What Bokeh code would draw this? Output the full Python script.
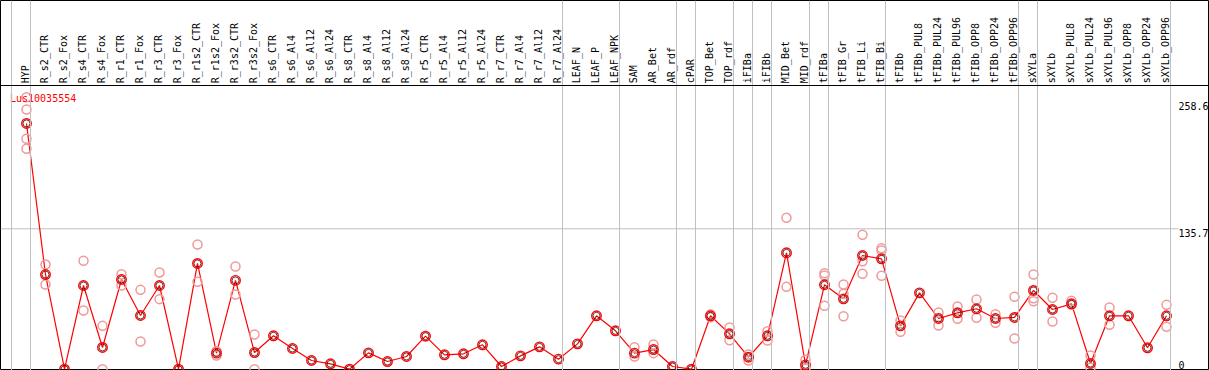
import math
from bokeh.plotting import figure
from bokeh.models import Range1d, Span
from bokeh.embed import file_html
from bokeh.resources import INLINE
from bokeh.core.properties import value

# ---------------- data ----------------
categories = [
    "HYP", "R_s2_CTR", "R_s2_Fox", "R_s4_CTR", "R_s4_Fox", "R_r1_CTR", "R_r1_Fox",
    "R_r3_CTR", "R_r3_Fox", "R_r1s2_CTR", "R_r1s2_Fox", "R_r3s2_CTR", "R_r3s2_Fox",
    "R_s6_CTR", "R_s6_Al4", "R_s6_Al12", "R_s6_Al24", "R_s8_CTR", "R_s8_Al4",
    "R_s8_Al12", "R_s8_Al24", "R_r5_CTR", "R_r5_Al4", "R_r5_Al12", "R_r5_Al24",
    "R_r7_CTR", "R_r7_Al4", "R_r7_Al12", "R_r7_Al24", "LEAF_N", "LEAF_P", "LEAF_NPK",
    "SAM", "AR_Bet", "AR_rdf", "cPAR", "TOP_Bet", "TOP_rdf", "iFIBa", "iFIBb",
    "MID_Bet", "MID_rdf", "tFIBa", "tFIB_Gr", "tFIB_Li", "tFIB_Bi", "tFIBb",
    "tFIBb_PUL8", "tFIBb_PUL24", "tFIBb_PUL96", "tFIBb_OPP8", "tFIBb_OPP24",
    "tFIBb_OPP96", "sXYLa", "sXYLb", "sXYLb_PUL8", "sXYLb_PUL24", "sXYLb_PUL96",
    "sXYLb_OPP8", "sXYLb_OPP24", "sXYLb_OPP96",
]

means = [
    237.5, 91.5, 0.0, 80.9, 21.0, 86.7, 51.9, 80.9, 0.0, 102.2, 15.5, 85.8, 16.1,
    32.3, 20.0, 8.4, 5.2, 0.0, 15.8, 7.4, 12.3, 31.9, 13.9, 14.9, 23.6,
    2.6, 12.9, 21.6, 9.7, 24.5, 51.6, 37.1,
    15.5, 19.0, 2.6, 0.0, 51.6, 34.2, 11.6, 32.3,
    112.5, 4.2, 81.6, 68.0, 109.9, 106.7, 41.9,
    73.8, 49.0, 54.5, 58.4, 49.0, 50.0,
    76.1, 57.7, 63.2, 5.5, 51.6, 51.6, 20.7, 51.6,
]

rep_categories = [
    "HYP", "R_s2_CTR", "R_s4_CTR", "R_s4_Fox", "R_r1_CTR", "R_r1_Fox", "R_r3_CTR",
    "R_r1s2_CTR", "R_r1s2_Fox", "R_r3s2_CTR", "R_r3s2_Fox", "SAM", "AR_Bet",
    "TOP_Bet", "TOP_rdf", "iFIBa", "iFIBb", "MID_Bet", "MID_rdf", "tFIBa",
    "tFIB_Gr", "tFIB_Li", "tFIB_Bi", "tFIBb", "tFIBb_PUL24", "tFIBb_PUL96",
    "tFIBb_OPP8", "tFIBb_OPP24", "tFIBb_OPP96", "sXYLa", "sXYLb", "sXYLb_PUL8",
    "sXYLb_PUL24", "sXYLb_PUL96", "sXYLb_OPP96",
]
rep_values = [
    [262.9, 251.0, 222.7, 213.0], [101.2, 81.9], [104.8, 56.7], [41.9, 0.0],
    [91.8, 80.9], [76.7, 26.8], [93.5, 67.7], [120.5, 84.5], [17.4, 13.2],
    [99.3, 72.2], [33.5, 0.0], [21.3, 12.3], [23.9, 15.5], [53.0, 50.2],
    [40.3, 28.0], [14.2, 8.4], [36.7, 27.7], [146.3, 79.6], [9.1, 0.4],
    [92.8, 90.6, 61.3], [81.9, 72.9, 51.2], [129.9, 104.4, 92.2],
    [116.9, 114.7, 90.3], [47.1, 36.1], [54.8, 42.2], [60.6, 48.7],
    [67.4, 49.7], [53.2, 44.8], [70.0, 29.7], [91.5, 68.6, 65.7],
    [69.0, 46.1], [66.1, 62.2], [13.2, 1.3], [59.6, 42.9], [62.2, 41.0],
]

# dividers are drawn after these categories (plus one before the first)
divider_after = [
    "HYP", "R_r7_Al24", "LEAF_NPK", "AR_rdf", "cPAR", "TOP_rdf", "iFIBa", "iFIBb",
    "MID_rdf", "tFIBa", "tFIB_Bi", "tFIBb_OPP96", "sXYLa", "sXYLb_OPP96",
]

tick_values = [258.6, 135.7, 0.0]
tick_labels = ["258.6", "135.7", "0"]
gene_id = "Lus10035554"

# ---------------- layout ----------------
W, H = 1209, 370
REF_W, REF_H = 1209.0, 370.0
SX, SY = W / REF_W, H / REF_H
PX_X = 19.0 * SX          # pixels per category
PX_Y = 1.0347 * SY        # pixels per value unit
X0_PX = 26.0 * SX         # first category, px from frame left
Y0_PX = 368.7 * SY        # value 0, px from frame top

xs = -X0_PX / PX_X
xe = xs + W / PX_X
ye = Y0_PX / PX_Y
ys = ye - H / PX_Y


def yd(ref_py):
    """reference pixel (from top) -> data y"""
    return (Y0_PX - ref_py * SY) / PX_Y


def xd(ref_px):
    """reference pixel (from left) -> data x"""
    return xs + ref_px * SX / PX_X


FONT = value("DejaVu Sans Mono")

p = figure(width=W, height=H, x_range=Range1d(xs, xe), y_range=Range1d(ys, ye),
           output_backend="svg", toolbar_location=None, min_border=0,
           x_axis_location=None, y_axis_location=None)
p.grid.visible = False
p.outline_line_color = "black"
p.outline_line_width = 1
p.outline_line_alpha = 1.0
p.background_fill_color = "white"
p.border_fill_color = "white"

idx = list(range(len(categories)))
off = 4.0 / 19.0

# vertical dividers
div_pos = [-1 + off] + [categories.index(c) + off for c in divider_after]
for d in div_pos:
    p.add_layout(Span(location=d, dimension="height", line_color="#c0c0c0",
                      line_width=1))

# header separator
p.add_layout(Span(location=yd(85), dimension="width", line_color="black",
                  line_width=1))

# tick label x
tick_x = len(categories) - 1 + 12.0 / 19.0

# horizontal grid line at middle tick
p.segment(x0=[xs], x1=[tick_x], y0=[tick_values[1]], y1=[tick_values[1]],
          line_color="#c0c0c0", line_width=1)

# category labels
p.text(x=[i - 0.05 for i in idx], y=[yd(82.7)] * len(idx), text=categories,
       angle=math.pi / 2, text_align="left", text_baseline="middle",
       text_font=FONT, text_font_size="10px", text_color="black")

# data
p.line(x=idx, y=means, line_color="red", line_width=1.2)

rx, ry = [], []
for c, vals in zip(rep_categories, rep_values):
    for v in vals:
        rx.append(categories.index(c))
        ry.append(v)
p.scatter(x=rx, y=ry, marker="circle", size=9, fill_color=None,
          line_color="#EE9A9A", line_width=1.5)

p.scatter(x=idx, y=means, marker="circle", size=9.5, fill_color=None,
          line_color="red", line_width=1.4)
p.scatter(x=idx, y=means, marker="circle", size=7, fill_color=None,
          line_color="#400000", line_width=0.8)

# tick labels
p.text(x=[tick_x] * 2, y=tick_values[:2], text=tick_labels[:2],
       text_align="left", text_baseline="top", text_font=FONT,
       text_font_size="10px", text_color="black")
p.text(x=[tick_x], y=tick_values[2:], text=tick_labels[2:],
       text_align="left", text_baseline="bottom", text_font=FONT,
       text_font_size="10px", text_color="black")

# gene id
p.text(x=[xd(9.5)], y=[yd(92)], text=[gene_id], text_align="left",
       text_baseline="top", text_font=FONT, text_font_size="10px",
       text_color="red")

open("out.html", "w").write(file_html(p, INLINE))
